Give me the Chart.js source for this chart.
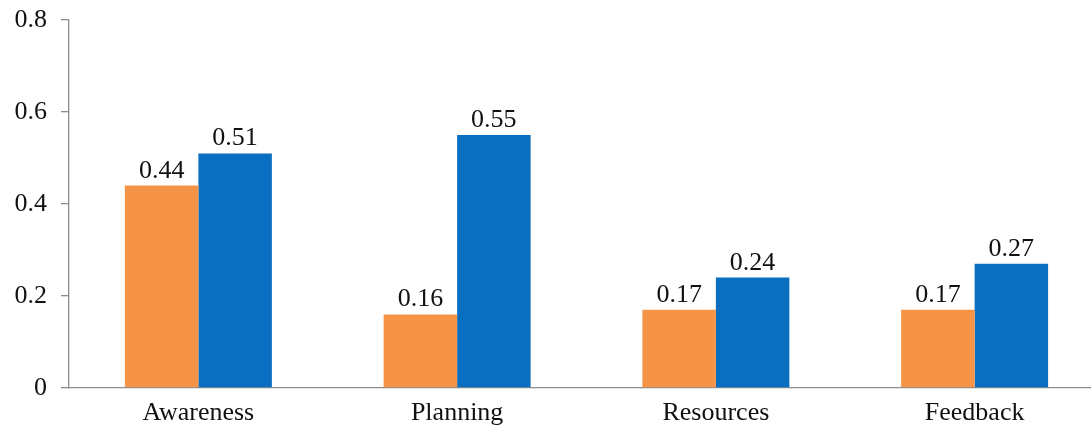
<!DOCTYPE html>
<html>
<head>
<meta charset="utf-8">
<script src="https://cdn.jsdelivr.net/npm/chart.js@4/dist/chart.umd.min.js"></script>
<style>
  html, body { margin: 0; padding: 0; background: #ffffff; overflow: hidden; }
  #wrap { width: 1104px; height: 433px; }
</style>
</head>
<body>
<div id="wrap"><canvas id="c" width="1104" height="433"></canvas></div>
<script>
const categories = ['Awareness', 'Planning', 'Resources', 'Feedback'];
const seriesOrange = [0.44, 0.16, 0.17, 0.17];
const seriesBlue = [0.51, 0.55, 0.24, 0.27];
const yTicks = [0, 0.2, 0.4, 0.6, 0.8];

const FONT = '"Liberation Serif", "Times New Roman", serif';
const AXIS_GRAY = '#8c8c8c';

// Writes each bar's value just above its top edge
const valueLabels = {
  id: 'valueLabels',
  afterDatasetsDraw(chart) {
    const ctx = chart.ctx;
    ctx.save();
    ctx.font = '26px ' + FONT;
    ctx.fillStyle = '#111111';
    ctx.textAlign = 'center';
    ctx.textBaseline = 'alphabetic';
    chart.data.datasets.forEach((ds, i) => {
      const meta = chart.getDatasetMeta(i);
      meta.data.forEach((bar, j) => {
        ctx.fillText(String(ds.data[j]), bar.x, bar.y - 8);
      });
    });
    ctx.restore();
  }
};

new Chart(document.getElementById('c'), {
  type: 'bar',
  data: {
    labels: categories,
    datasets: [
      { data: seriesOrange, backgroundColor: '#f59446', borderWidth: 0 },
      { data: seriesBlue, backgroundColor: '#0a6fc0', borderWidth: 0 }
    ]
  },
  options: {
    responsive: false,
    animation: false,
    events: [],
    layout: { padding: { top: 20, right: 0, left: 0, bottom: 0 } },
    datasets: { bar: { categoryPercentage: 0.568, barPercentage: 1.0 } },
    plugins: { legend: { display: false }, tooltip: { enabled: false } },
    scales: {
      x: {
        grid: { display: false, drawTicks: false },
        border: { display: true, color: AXIS_GRAY, width: 1.3 },
        ticks: { color: '#111111', font: { family: FONT, size: 26 }, padding: 10, maxRotation: 0 },
        afterFit(scale) { scale.height = 45; scale.paddingLeft = 0; scale.paddingRight = 0; }
      },
      y: {
        min: 0,
        max: 0.8,
        afterBuildTicks(scale) { scale.ticks = yTicks.map(v => ({ value: v })); },
        grid: { drawOnChartArea: false, drawTicks: true, tickLength: 8, color: AXIS_GRAY, lineWidth: 1.3 },
        border: { display: true, color: AXIS_GRAY, width: 1.3 },
        ticks: {
          color: '#111111',
          font: { family: FONT, size: 26 },
          padding: 14,
          callback: v => String(v)
        },
        afterFit(scale) { scale.width = 69; scale.paddingTop = 0; scale.paddingBottom = 0; }
      }
    }
  },
  plugins: [valueLabels]
});
</script>
</body>
</html>
